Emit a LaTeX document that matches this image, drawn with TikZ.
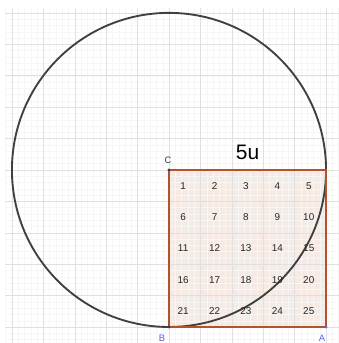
\documentclass[tikz,border=0pt]{standalone}
\usepackage{fontspec}
\setmainfont{Liberation Sans}
\usepackage{xcolor}
\usetikzlibrary{positioning, calc}

\definecolor{squareedge}{RGB}{180,82,45}
\definecolor{squarefill}{RGB}{246,234,228}
\definecolor{circleline}{RGB}{64,64,64}
\definecolor{pointblue}{RGB}{95,100,225}

\begin{document}
\begin{tikzpicture}[
    gridminor/.style={draw=gray!7, line width=0.3pt, step=0.2},
    gridmajor/.style={draw=gray!24, line width=0.4pt, step=1},
    square/.style={draw=squareedge, line width=1.6pt},
    bigcircle/.style={draw=circleline, line width=1.7pt},
    cell/.style={font=\fontsize{9}{10}\selectfont, text=black!85},
    side_label/.style={font=\fontsize{19}{22}\selectfont, text=black},
    point_label/.style={font=\fontsize{8.5}{10}\selectfont},
    dot/.style={circle, fill, inner sep=0pt, minimum size=3pt}
]
    \useasboundingbox (-5.38,-0.51) rectangle (5.41,10.41);

    % ================= POINTS =================
    \coordinate (B) at (0,0);
    \coordinate (A) at (5,0);
    \coordinate (C) at (0,5);
    \coordinate (D) at (5,5);

    % ================= BACKGROUND GRID =================
    \fill[squarefill] (B) rectangle (D);
    \draw[gridminor] (-5.22,-0.51) grid (5.41,10.16);
    \draw[gridmajor] (-5.22,-0.51) grid (5.41,10.16);

    % ================= CIRCLE AND SQUARE =================
    \draw[bigcircle] (C) circle (5);
    \draw[square] (B) -- (A) -- (D) -- (C) -- cycle;

    \node[side_label] (side) at (2.5,5.55) {5u};

    % Numbered unit squares
    \node[cell] (n1) at (0.45,4.5) {1};  \node[cell] (n2) at (1.45,4.5) {2};  \node[cell] (n3) at (2.45,4.5) {3};  \node[cell] (n4) at (3.45,4.5) {4};  \node[cell] (n5) at (4.45,4.5) {5};
    \node[cell] (n6) at (0.45,3.5) {6};  \node[cell] (n7) at (1.45,3.5) {7};  \node[cell] (n8) at (2.45,3.5) {8};  \node[cell] (n9) at (3.45,3.5) {9};  \node[cell] (n10) at (4.45,3.5) {10};
    \node[cell] (n11) at (0.45,2.5) {11}; \node[cell] (n12) at (1.45,2.5) {12}; \node[cell] (n13) at (2.45,2.5) {13}; \node[cell] (n14) at (3.45,2.5) {14}; \node[cell] (n15) at (4.45,2.5) {15};
    \node[cell] (n16) at (0.45,1.5) {16}; \node[cell] (n17) at (1.45,1.5) {17}; \node[cell] (n18) at (2.45,1.5) {18}; \node[cell] (n19) at (3.45,1.5) {19}; \node[cell] (n20) at (4.45,1.5) {20};
    \node[cell] (n21) at (0.45,0.5) {21}; \node[cell] (n22) at (1.45,0.5) {22}; \node[cell] (n23) at (2.45,0.5) {23}; \node[cell] (n24) at (3.45,0.5) {24}; \node[cell] (n25) at (4.45,0.5) {25};

    % Point markers and labels
    \node[dot, circleline] (dC) at (C) {};
    \node[dot, circleline] (dB) at (B) {};
    \node[dot, pointblue] (dA) at (A) {};
    \node[point_label, text=circleline] (lC) at (-0.03,5.3) {C};
    \node[point_label, text=pointblue] (lB) at (-0.22,-0.36) {B};
    \node[point_label, text=pointblue] (lA) at (4.87,-0.37) {A};

\end{tikzpicture}
\end{document}
